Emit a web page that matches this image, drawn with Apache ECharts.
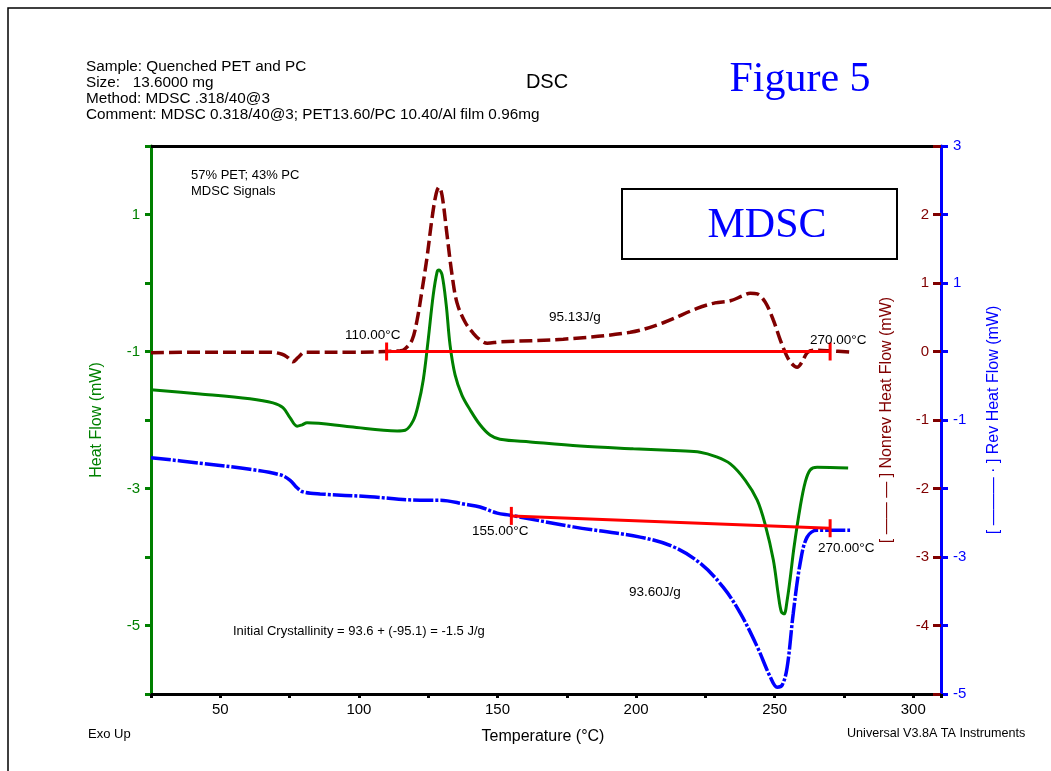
<!DOCTYPE html>
<html>
<head>
<meta charset="utf-8">
<title>DSC - MDSC Signals</title>
<script src="https://cdn.jsdelivr.net/npm/echarts@6/dist/echarts.min.js"></script>
<style>
  html, body { margin: 0; padding: 0; background: #ffffff; }
  #chart { width: 1051px; height: 771px; }
</style>
</head>
<body>
<div id="chart"></div>
<script>
// Temperature axis (°C)
const tempMin = 25;
const tempMax = 310;
const tempLabels = [50, 100, 150, 200, 250, 300];

// Total heat flow (left axis, mW)
const heatFlowLabels = [1, -1, -3, -5];
const heatFlowT = [25, 42.7, 60.7, 69.0, 72.6, 75.2, 77.7, 79.5, 81.3, 96.8, 113.8, 116.7, 119.6, 121.4, 123.2, 125.0, 126.8, 128.2, 128.9, 130.0, 131.5, 132.9, 134.7, 137.2, 140.1, 143.7, 147.3, 150.9, 161.8, 179.8, 199.0, 215.9, 223.1, 228.5, 234.0, 239.4, 243.7, 246.6, 249.5, 251.3, 252.4, 253.4, 254.5, 255.6, 257.0, 259.2, 261.0, 262.8, 265.3, 276.5];
const heatFlow = [-1.56, -1.62, -1.69, -1.75, -1.82, -1.97, -2.09, -2.07, -2.04, -2.10, -2.16, -2.15, -2.01, -1.78, -1.42, -0.83, -0.18, 0.16, 0.19, 0.12, -0.32, -0.91, -1.34, -1.64, -1.85, -2.07, -2.22, -2.28, -2.32, -2.38, -2.42, -2.45, -2.47, -2.53, -2.64, -2.88, -3.17, -3.53, -4.04, -4.55, -4.80, -4.83, -4.63, -4.31, -3.85, -3.27, -2.91, -2.73, -2.69, -2.70];

// Non-reversing heat flow (inner right axis, mW)
const nonrevLabels = [2, 1, 0, -1, -2, -3, -4];
const nonrevT = [25, 42.7, 67.9, 72.3, 74.4, 76.2, 78.0, 80.6, 96.8, 114.9, 116.7, 119.2, 121.0, 122.8, 124.6, 126.4, 127.9, 128.9, 130.0, 131.8, 133.6, 135.4, 138.3, 141.2, 143.7, 146.3, 150.9, 173.7, 197.9, 209.8, 222.0, 228.5, 234.0, 238.3, 241.2, 243.7, 246.6, 249.5, 252.0, 254.2, 256.0, 258.1, 259.9, 261.7, 263.9, 270.0, 277.2];
const nonrev = [-0.02, -0.01, -0.01, -0.04, -0.09, -0.15, -0.09, -0.01, -0.01, 0.01, 0.04, 0.17, 0.46, 0.90, 1.38, 1.95, 2.31, 2.40, 2.28, 1.70, 1.12, 0.71, 0.43, 0.27, 0.17, 0.12, 0.14, 0.18, 0.28, 0.42, 0.63, 0.71, 0.74, 0.81, 0.85, 0.84, 0.72, 0.46, 0.17, -0.05, -0.17, -0.23, -0.15, -0.02, 0.02, 0.01, -0.01];

// Reversing heat flow (outer right axis, mW)
const revLabels = [3, 1, -1, -3, -5];
const revT = [25, 42.7, 60.7, 71.6, 75.2, 77.7, 79.9, 86.0, 104.0, 122.1, 129.3, 138.3, 143.7, 149.9, 154.6, 177.3, 201.5, 213.4, 223.1, 231.4, 237.6, 243.7, 248.4, 250.9, 252.7, 254.5, 256.7, 259.2, 261.7, 265.3, 277.2];
const rev = [-1.55, -1.63, -1.72, -1.80, -1.88, -1.99, -2.05, -2.08, -2.12, -2.17, -2.17, -2.23, -2.27, -2.36, -2.39, -2.56, -2.71, -2.85, -3.09, -3.44, -3.82, -4.31, -4.75, -4.90, -4.87, -4.61, -3.82, -3.09, -2.71, -2.61, -2.61];

// Integration baselines
const nonrevBaseT = [110, 270];
const nonrevBase = [0, 0];
const revBaseT = [155, 270];
const revBase = [-2.40, -2.58];

const zip = (xs, ys) => xs.map((x, i) => [x, ys[i]]);

const SANS = '"Liberation Sans", Arial, sans-serif';
const SERIF = '"Liberation Serif", "Times New Roman", serif';
const GREEN = '#008000';
const DARKRED = '#800000';
const BLUE = '#0000ff';
const RED = '#ff0000';

const chart = echarts.init(document.getElementById('chart'));

function txt(text, x, y, size, color, align, family, rotation) {
  return {
    type: 'text', x: x, y: y, rotation: rotation || 0, z: 100,
    style: {
      text: text, fill: color || '#000', font: size + 'px ' + (family || SANS),
      textAlign: align || 'left', textVerticalAlign: 'middle'
    }
  };
}

const baseMarker = { symbol: 'rect', symbolSize: [3, 18] };

chart.setOption({
  animation: false,
  backgroundColor: '#ffffff',
  grid: { left: 151, right: 110, top: 146, bottom: 77 },
  xAxis: [
    {
      type: 'value', position: 'bottom', min: tempMin, max: tempMax, interval: 25,
      axisLine: { onZero: false, lineStyle: { color: '#000', width: 3 } },
      axisTick: { length: 4, lineStyle: { color: '#000', width: 3 } },
      axisLabel: {
        margin: 8, color: '#000', fontSize: 15, fontFamily: SANS,
        formatter: v => tempLabels.includes(v) ? String(v) : ''
      },
      splitLine: { show: false }
    },
    {
      type: 'value', position: 'top', min: tempMin, max: tempMax,
      axisLine: { onZero: false, lineStyle: { color: '#000', width: 3 } },
      axisTick: { show: false }, axisLabel: { show: false }, splitLine: { show: false }
    }
  ],
  yAxis: [
    {
      type: 'value', position: 'left', min: -6, max: 2, interval: 1,
      name: 'Heat Flow (mW)', nameLocation: 'middle', nameGap: 46,
      nameTextStyle: { color: GREEN, fontSize: 16, fontFamily: SANS },
      axisLine: { show: true, onZero: false, lineStyle: { color: GREEN, width: 3 } },
      axisTick: { length: 6, lineStyle: { color: GREEN, width: 3 } },
      axisLabel: {
        margin: 11, color: GREEN, fontSize: 15, fontFamily: SANS,
        formatter: v => heatFlowLabels.includes(v) ? String(v) : ''
      },
      splitLine: { show: false }
    },
    {
      type: 'value', position: 'right', min: -5, max: 3, interval: 1,
      axisLine: { show: false },
      axisTick: { inside: true, length: 8, lineStyle: { color: DARKRED, width: 3 } },
      axisLabel: {
        inside: true, margin: 12, color: DARKRED, fontSize: 15, fontFamily: SANS,
        formatter: v => nonrevLabels.includes(v) ? String(v) : ''
      },
      splitLine: { show: false }
    },
    {
      type: 'value', position: 'right', min: -5, max: 3, interval: 1,
      name: '[ ——— · ] Rev Heat Flow (mW)', nameLocation: 'middle', nameGap: 45,
      nameTextStyle: { color: BLUE, fontSize: 16, fontFamily: SANS },
      axisLine: { show: true, onZero: false, lineStyle: { color: BLUE, width: 3 } },
      axisTick: { length: 7, lineStyle: { color: BLUE, width: 3 } },
      axisLabel: {
        margin: 12, color: BLUE, fontSize: 15, fontFamily: SANS,
        formatter: v => revLabels.includes(v) ? String(v) : ''
      },
      splitLine: { show: false }
    }
  ],
  series: [
    {
      name: 'Nonrev Heat Flow', type: 'line', yAxisIndex: 1, data: zip(nonrevT, nonrev),
      showSymbol: false, smooth: 0.35,
      lineStyle: { color: DARKRED, width: 3.5, type: [13, 5] }
    },
    {
      name: 'Heat Flow', type: 'line', yAxisIndex: 0, data: zip(heatFlowT, heatFlow),
      showSymbol: false, smooth: 0.35,
      lineStyle: { color: GREEN, width: 3 }
    },
    {
      name: 'Rev Heat Flow', type: 'line', yAxisIndex: 2, data: zip(revT, rev),
      showSymbol: false, smooth: 0.35,
      lineStyle: { color: BLUE, width: 3.5, type: [20, 2, 3, 2] }
    },
    {
      name: 'Nonrev baseline', type: 'line', yAxisIndex: 1, data: zip(nonrevBaseT, nonrevBase),
      symbol: baseMarker.symbol, symbolSize: baseMarker.symbolSize,
      itemStyle: { color: RED }, lineStyle: { color: RED, width: 3 }
    },
    {
      name: 'Rev baseline', type: 'line', yAxisIndex: 2, data: zip(revBaseT, revBase),
      symbol: baseMarker.symbol, symbolSize: baseMarker.symbolSize,
      itemStyle: { color: RED }, lineStyle: { color: RED, width: 3 }
    }
  ],
  graphic: [
    // page frame
    { type: 'polyline', z: 100, shape: { points: [[8, 771], [8, 8], [1051, 8]] },
      style: { stroke: '#000', lineWidth: 1.5, fill: null } },
    // header
    txt('Sample: Quenched PET and PC', 86, 67, 15.3),
    txt('Size:   13.6000 mg', 86, 83, 15.3),
    txt('Method: MDSC .318/40@3', 86, 99, 15.3),
    txt('Comment: MDSC 0.318/40@3; PET13.60/PC 10.40/Al film 0.96mg', 86, 115, 15.3),
    txt('DSC', 547, 82, 20, '#000', 'center'),
    txt('Figure 5', 800, 80, 42, BLUE, 'center', SERIF),
    // plot notes
    txt('57% PET; 43% PC', 191, 175, 13),
    txt('MDSC Signals', 191, 191, 13),
    { type: 'rect', z: 100, shape: { x: 622, y: 189, width: 275, height: 70 },
      style: { stroke: '#000', lineWidth: 2, fill: '#fff' } },
    txt('MDSC', 767, 226, 42, BLUE, 'center', SERIF),
    txt('110.00°C', 345, 335, 13.5),
    txt('270.00°C', 810, 340, 13.5),
    txt('95.13J/g', 549, 317, 13.5),
    txt('155.00°C', 472, 531, 13.5),
    txt('270.00°C', 818, 548, 13.5),
    txt('93.60J/g', 629, 592, 13.5),
    txt('Initial Crystallinity = 93.6 + (-95.1) = -1.5 J/g', 233, 631, 13),
    // nonrev axis title sits just inside the right axis
    txt('[ —— — ] Nonrev Heat Flow (mW)', 887, 420, 16, DARKRED, 'center', SANS, Math.PI / 2),
    // footer
    txt('Exo Up', 88, 734, 13),
    txt('Temperature (°C)', 543, 737, 16, '#000', 'center'),
    txt('Universal V3.8A TA Instruments', 847, 734, 12.6)
  ]
});
</script>
</body>
</html>
